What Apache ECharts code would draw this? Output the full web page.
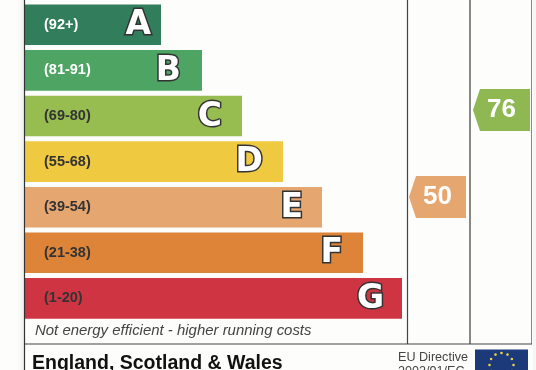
<!DOCTYPE html>
<html>
<head>
<meta charset="utf-8">
<style>
  html, body { margin: 0; padding: 0; background: #fdfdfc; }
  #main { width: 536px; height: 370px; filter: blur(0.4px); }
</style>
<script src="https://cdn.jsdelivr.net/npm/echarts@6/dist/echarts.min.js"></script>
</head>
<body>
<div id="main"></div>
<script>
// bands, top to bottom
var ranges = ['(92+)', '(81-91)', '(69-80)', '(55-68)', '(39-54)', '(21-38)', '(1-20)'];
var letters = ['A', 'B', 'C', 'D', 'E', 'F', 'G'];
var barLengths = [136, 177, 217, 258, 297, 338, 377];
var barColors = ['#327d5c', '#4da463', '#97bd50', '#efc93f', '#e5a670', '#de8439', '#cf3443'];
var rangeColors = ['#ffffff', '#ffffff', '#333333', '#333333', '#333333', '#333333', '#333333'];
var letterGaps = [10, 21, 20, 20, 19, 20, 18];

// score columns
var columns = ['Current', 'Potential'];
var scores = [50, 76];
var scoreColors = ['#e5a670', '#8fb852'];

var pointer = 'path://M7 0L57 0L57 42L7 42L0 21Z';

var chart = echarts.init(document.getElementById('main'));

var graphic = [
    {type: 'rect', shape: {x: 17, y: 0, width: 8, height: 370}, silent: true, z: -1,
        style: {fill: new echarts.graphic.LinearGradient(0, 0, 1, 0, [
            {offset: 0, color: 'rgba(0,0,0,0)'}, {offset: 1, color: 'rgba(0,0,0,0.05)'}])}},
    {type: 'rect', shape: {x: 533, y: 0, width: 3, height: 370}, silent: true, z: -1, style: {fill: '#f6f6f6'}},
    {type: 'line', shape: {x1: 24.5, y1: 0, x2: 24.5, y2: 370}, z: 10, style: {stroke: '#333', lineWidth: 1.2}},
    {type: 'line', shape: {x1: 407.5, y1: 0, x2: 407.5, y2: 344}, z: 10, style: {stroke: '#444', lineWidth: 1.2}},
    {type: 'line', shape: {x1: 470, y1: 0, x2: 470, y2: 344}, z: 10, style: {stroke: '#555', lineWidth: 1.4}},
    {type: 'line', shape: {x1: 531.5, y1: 0, x2: 531.5, y2: 344}, z: 10, style: {stroke: '#888', lineWidth: 1}},
    {type: 'line', shape: {x1: 25, y1: 344, x2: 532, y2: 344}, z: 10, style: {stroke: '#444', lineWidth: 1.2}},
    {type: 'text', x: 35, y: 323.5, z: 10, style: {text: 'Not energy efficient - higher running costs',
        font: 'italic 14.95px "Liberation Sans"', fill: '#444'}},
    {type: 'text', x: 32, y: 354, z: 10, style: {text: 'England, Scotland & Wales',
        font: 'bold 19.5px "Liberation Sans"', fill: '#111'}},
    {type: 'text', x: 398, y: 351, z: 10, style: {text: 'EU Directive',
        font: '12.6px "Liberation Sans"', fill: '#444'}},
    {type: 'text', x: 398, y: 365, z: 10, style: {text: '2002/91/EC',
        font: '12.6px "Liberation Sans"', fill: '#444'}},
    {type: 'rect', shape: {x: 475, y: 349.5, width: 53, height: 20.5}, z: 10, style: {fill: '#1c3a7a'}}
];

// flag stars
for (var i = 0; i < 12; i++) {
    var a = i / 12 * Math.PI * 2;
    graphic.push({type: 'circle', z: 11,
        shape: {cx: 501.5 + Math.sin(a) * 12, cy: 365 - Math.cos(a) * 12, r: 1.3},
        style: {fill: '#e8d24a'}});
}

var option = {
    animation: false,
    backgroundColor: '#fdfdfc',
    textStyle: {fontFamily: '"Liberation Sans"'},
    grid: [
        {left: 25, top: 2, width: 382, height: 319.2},
        {left: 405.5, top: 0, width: 128, height: 370}
    ],
    xAxis: [
        {type: 'value', gridIndex: 0, min: 0, max: 382, show: false},
        {type: 'category', gridIndex: 1, data: columns, show: false}
    ],
    yAxis: [
        {
            type: 'category',
            gridIndex: 0,
            inverse: true,
            data: ranges,
            z: 5,
            axisLine: {show: false},
            axisTick: {show: false},
            axisLabel: {
                inside: true,
                margin: 19,
                fontSize: 14.5,
                fontWeight: 'bold',
                color: function (v, i) { return rangeColors[i]; }
            }
        },
        // score scale, fitted to the two pointers
        {type: 'value', gridIndex: 1, min: -1.7, max: 108.9, show: false}
    ],
    series: [
        {
            type: 'bar',
            xAxisIndex: 0,
            yAxisIndex: 0,
            barWidth: 40.6,
            data: barLengths.map(function (v, i) {
                return {
                    value: v,
                    itemStyle: {color: barColors[i]},
                    label: {distance: letterGaps[i]}
                };
            }),
            label: {
                show: true,
                position: 'insideRight',
                offset: [0, 1],
                formatter: function (p) { return letters[p.dataIndex]; },
                fontFamily: '"DejaVu Sans"',
                fontSize: 33,
                fontWeight: 'bold',
                color: '#fff',
                textBorderColor: '#333333',
                textBorderWidth: 3
            }
        },
        {
            type: 'scatter',
            xAxisIndex: 1,
            yAxisIndex: 1,
            symbol: pointer,
            symbolSize: [57, 42],
            data: scores.map(function (v, i) {
                return {value: [columns[i], v], itemStyle: {color: scoreColors[i], opacity: 1}};
            }),
            label: {
                show: true,
                position: 'inside',
                formatter: function (p) { return p.value[1]; },
                fontSize: 26,
                fontWeight: 'bold',
                color: '#fff'
            }
        }
    ],
    graphic: graphic
};
chart.setOption(option);
</script>
</body>
</html>
